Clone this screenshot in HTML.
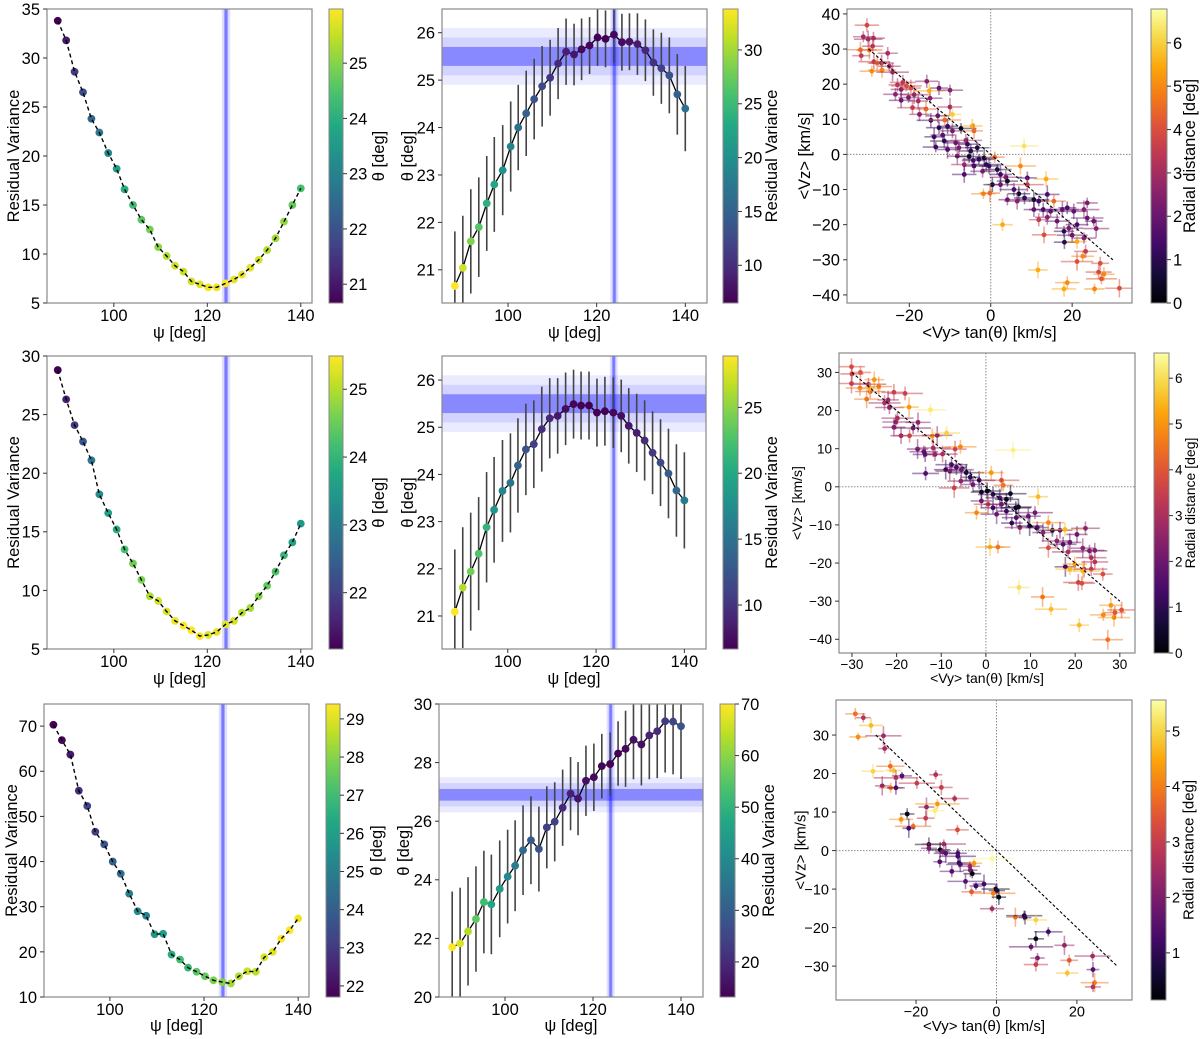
<!DOCTYPE html>
<html><head><meta charset="utf-8"><title>Residual variance fits</title>
<style>
html,body{margin:0;padding:0;background:#fff;}
svg{display:block;font-family:"Liberation Sans",sans-serif;}
</style></head>
<body>
<svg id="fig" width="1200" height="1039" viewBox="0 0 1200 1039" xmlns="http://www.w3.org/2000/svg"></svg>
<script>
// ---------- data ----------
const psi = [88.0,89.8,91.6,93.4,95.2,96.9,98.8,100.6,102.3,104.1,105.9,107.7,109.5,111.3,113.1,114.9,116.6,118.4,120.2,122.0,123.9,125.7,127.4,129.2,131.0,132.8,134.6,136.4,138.2,140.0];

const resVar1 = [33.8,31.8,28.6,26.5,23.8,22.4,20.3,18.7,16.6,15.0,13.5,12.5,10.7,9.8,8.8,8.2,7.2,6.9,6.6,6.6,7.0,7.4,7.9,8.6,9.4,10.4,11.6,13.3,15.0,16.7];
const theta1 = [20.66,21.04,21.6,21.9,22.4,22.8,23.1,23.6,24.0,24.3,24.6,24.87,25.05,25.35,25.6,25.54,25.65,25.73,25.9,25.87,25.96,25.8,25.81,25.76,25.63,25.37,25.25,25.1,24.7,24.4];
const thetaErr1 = [1.15,1.1,1.1,1.05,1.0,1.0,0.95,0.95,0.9,0.9,0.85,0.85,0.8,0.75,0.7,0.65,0.65,0.6,0.6,0.6,0.6,0.6,0.6,0.65,0.65,0.7,0.75,0.8,0.85,0.9];

const resVar2 = [28.8,26.3,24.1,22.7,21.1,18.2,16.6,15.2,13.5,12.3,10.9,9.5,9.1,8.2,7.4,7.0,6.6,6.1,6.2,6.45,7.1,7.4,8.1,8.5,9.5,10.4,11.6,13.0,14.1,15.7];
const theta2 = [21.09,21.6,21.94,22.32,22.88,23.25,23.65,23.82,24.19,24.53,24.64,24.96,25.19,25.24,25.39,25.49,25.46,25.46,25.31,25.34,25.31,25.24,25.03,24.88,24.72,24.46,24.25,24.02,23.66,23.45];
const thetaErr2 = [1.32,1.28,1.25,1.2,1.17,1.12,1.08,1.05,1.0,0.97,0.93,0.9,0.85,0.8,0.77,0.73,0.72,0.72,0.72,0.73,0.75,0.77,0.8,0.83,0.85,0.88,0.92,0.95,0.98,1.02];

const resVar3 = [70.3,66.9,63.7,55.7,52.3,46.6,43.8,40.0,37.3,32.9,29.0,28.0,23.9,24.0,19.4,18.3,16.5,15.6,14.6,13.7,13.3,13.0,14.6,15.7,15.6,18.8,20.0,22.9,24.8,27.4];
const theta3 = [21.7,21.83,22.24,22.66,23.24,23.16,23.69,24.11,24.48,25.01,25.35,25.05,25.79,25.98,26.46,26.94,26.77,27.38,27.5,27.88,27.95,28.31,28.47,28.78,28.62,28.93,29.07,29.41,29.4,29.24];
const thetaErr3 = [1.9,1.9,1.85,1.8,1.75,1.7,1.65,1.6,1.55,1.53,1.5,1.45,1.4,1.35,1.3,1.25,1.25,1.2,1.15,1.1,1.08,1.1,1.3,1.35,1.4,1.5,1.6,1.75,1.8,1.8];

// best-fit bands: [centre, 1-sigma, 2-sigma, 3-sigma]
const psiBest = [124.0, 0.45, 0.9, 1.4];
const thetaBest1 = [25.5, 0.2, 0.4, 0.6];
const thetaBest2 = [25.5, 0.2, 0.4, 0.6];
const thetaBest3 = [26.9, 0.2, 0.4, 0.6];

// scatter row 1
const sc1X = [-30.4,-31.3,-30.1,-28.8,-32,-31.8,-29.8,-29,-28.7,-27.9,-29.2,-26.8,-25.3,-26.7,-24.9,-24.1,-22.9,-21.6,-22,-20.7,-19.6,-23.4,-22,-20.2,-18.8,-15.7,-15.1,-12.7,-10,-15.9,-19.2,-17.8,-14.9,-10,-17.5,-14.7,-13,-11.3,-9.4,-12.7,-10.6,-7.3,-13.9,-11.8,-9.4,-4.5,-11.4,-8.6,-6.1,-4.1,-13.5,-10.6,-7.8,-5.7,-4.9,-3.3,-8.2,-5.3,-4.3,-2.9,-1.6,-6.5,-4.1,-1.1,1,-6.5,-2,-0.4,1.6,2.4,3.7,0.4,2.4,4.1,7.3,9,13.6,-1.8,-0.2,5.7,6.9,9,4.1,6.5,8.3,10.6,11.8,13.9,15.5,10.6,12.9,14.7,17.6,18.8,20.4,23.7,22.9,11.8,13.9,16.3,18,19.2,21.2,23.7,25.3,25.9,18.1,20,21.2,22.9,13.1,2.9,8.2,22.6,21.2,26.9,26.5,27.8,27.2,11.6,18.8,18,25.5,31.6,23.3];
const sc1Y = [36.8,33.5,32.8,33.1,29.8,28.1,29.7,30.8,26.4,26,23.7,26,28.8,24,25.1,23.4,19.8,20.5,18.5,19.5,18.9,17.1,15.4,16.2,17,20.8,18.1,18.9,18.3,12.9,13.3,15.2,16,13.5,11.4,9.7,11,9.8,11.4,7.6,8,7.4,5,5.5,6.7,8.1,3.8,3.3,4,6.7,2.1,1.4,1.9,2.9,1,1.9,-0.5,-0.6,-1.7,-1.4,-1,-2.9,-3.3,-2.9,-0.8,-5.7,-4.8,-3.3,-4.3,-5.7,-6.5,-8.6,-8.6,-7.6,-3.3,-6.7,-7,-11.2,-11,-10,-11.2,-8.6,-12.9,-13.3,-12.4,-12.9,-13.3,-11.4,-13.3,-15.7,-15.7,-16.2,-15.7,-15.2,-16.2,-13.8,-15.7,-18.6,-17.9,-19,-21.9,-21,-20,-18.1,-19,-21.1,-25,-23,-24.8,-23.8,-22.9,-20,2.4,-29,-30.5,-31,-33.5,-34.1,-35.4,-32.9,-36.5,-38.3,-38.3,-38.1,-27.6];
const sc1R = [3.8,3,3,3,4.5,3.5,4.5,3.3,3.5,4.5,5,3,3,5,3,2.8,3.2,3.5,2.5,4,4,2.5,2,2.3,2.8,2.5,5.5,2,2.5,4.5,3.5,3,2.5,3,2.5,1.3,2,4.5,6,1,1.3,0.3,1.2,1.8,2.3,5.5,1,2,3,4.5,1.3,1.5,2.3,1.2,1,0.8,2.5,0.5,1.5,1.2,0.5,3,1.5,1,4.5,1.5,2.3,1.2,0.8,1.3,2.5,0.5,2,0.6,5,1.5,5.5,5,4.5,1.5,0.5,3.5,2,2.5,1.2,0.5,1.3,1.5,4.5,2,1.5,1.8,2,1.5,1.8,2.3,2.5,3.5,2.5,2,1,2.3,1.5,2,2,2.5,1,2,5.5,2.5,4,5.5,6.3,5,4,4,3.8,5,4.2,5.5,5,5.5,5,4,3.5];
const sc1EX = [3.0,2.5,3.5,2.8,4.0,2.2,3.2,2.6,3.8,2.4,3.0];
const sc1EY = [2.0,1.6,2.4,1.8,2.2,1.5,2.6,1.9,2.1];

// scatter row 2
const sc2X = [-30.1,-30,-30.1,-28.1,-28.2,-26.7,-26.3,-25,-25.9,-24,-26,-22.7,-21.9,-21.6,-20.6,-18.1,-17.2,-12.4,-20.2,-20.6,-19.8,-19,-17.1,-15.2,-16.3,-12,-10.9,-8.8,-6.9,-5.7,-15.3,-13.9,-13.6,-11.8,-11.4,-9.7,-13.5,-9,-7.7,-6.6,-8.1,-5.5,-4.4,-3.5,-7.1,-5.6,-2.9,-1.5,-1,0.3,1.2,3.5,3.9,1.6,3.1,4.6,5.5,-1,0.5,1.6,3.5,4.6,6.7,7.3,-2.1,2.4,5.8,6.8,9.5,11,11.7,7.6,9.8,11.5,14,12.8,14.9,16.6,17.7,14,15.9,17.3,18.8,18.4,20.4,22.3,21.7,23.2,24.4,23.6,24.4,22,23.6,17.8,18.8,19.9,21.7,26.2,20.7,21.5,12.7,14.6,7.4,0.9,2.7,6.1,20.9,27.3,26.3,28,28.7,28.9,30.4];
const sc2Y = [31.5,29.6,27.1,30,25.9,23,26.9,28.1,25,26.3,25.7,22,22.8,20.8,24.8,24.5,20.9,20.2,17,15.6,18,13.4,13.4,16.9,15.4,13.3,13.5,14.1,9.9,10.5,9.9,9.2,8.5,10.2,8.5,8.6,3.5,4.5,5.8,5.1,4.1,4.5,3.7,2.5,-0.3,1.5,0.6,1.7,-1.4,-1.1,3.7,1.7,0.4,-2,-2.9,-3.3,-1.8,-3.7,-4.6,-5.5,-4.6,-6.4,-5.5,-5.3,-6.8,-7.2,-9.5,-8.1,-7.7,-6.8,-2.6,-10.7,-10.3,-10.7,-9.4,-12,-11.4,-11.4,-11.2,-16,-14.2,-15.1,-14.6,-17.1,-12.5,-10.9,-16.1,-16.8,-16.7,-18.6,-19.7,-21.6,-21.6,-21,-21.6,-20.3,-22.1,-22.9,-25.1,-25.3,-28.9,-32.1,-26.4,-15.8,-15.8,9.6,-36.3,-40.1,-33.6,-31.1,-34.3,-33,-32.3];
const sc2R = [3.8,3.5,3.5,4,4.5,4.5,3,5,4,4.5,5.5,3,2.8,2.5,3.5,3.5,5,6.2,2.5,2.3,3,2.5,3.5,2.5,2,5,2.5,5.8,3.5,4.8,2,1.8,1.5,3,2.5,3,1.5,1,1.3,1.5,2.5,2,0.8,1,3.5,2.5,2,1.3,0.4,0.3,5,3.8,4.5,1,1.5,0.3,0.5,2,3.5,1.2,2,1.2,0.3,0.5,4.8,2,1,1.5,2,2,5.5,2.5,0.5,1.5,4.8,2.5,0.8,2,5.5,3.8,2.5,1.5,2,3,2,2.5,2.5,2,2.3,3,3.2,3.5,3.3,1.3,5.5,5,5.5,3.8,3.5,3.8,4.5,5.5,6,5.5,4.5,6.3,5.5,4.5,4.8,5,5,4,4];
const sc2EX = [3.0,2.6,3.6,2.4,3.2,2.8,4.0,2.2,3.4];
const sc2EY = [2.2,1.8,2.6,1.6,2.0,2.4,1.7];

// scatter row 3
const sc3X = [-35.1,-33.1,-31.2,-34.4,-28.1,-27.8,-30.7,-26.4,-25.6,-25,-23.5,-28.4,-26.3,-25,-19.8,-15.1,-13.7,-10.4,-17.4,-14.7,-15.3,-22.2,-23.7,-17.6,-20.7,-21.8,-9.7,-16.8,-16.8,-13.1,-14,-13.4,-12.6,-9.6,-9.6,-14.1,-9.3,-9,-5.6,-1.1,-6.6,-6.5,-11.1,-6,-7.7,-5.1,-3.1,-0.2,0.1,-0.8,-6.2,0.6,-1.1,4.7,6.9,7.1,9.8,12.9,9.8,8.6,16.9,10.2,9.8,18.1,23.9,24,17.6,24.4,24];
const sc3Y = [35.5,34.5,32.5,29.5,29.8,26.5,20.6,21.9,20.8,18.9,19.4,16.8,16.3,16.3,17.5,19.7,16.4,13.5,11.3,12.1,10.4,9.5,8.1,8.4,6.3,5.8,5.4,1.6,0.6,1.7,0.2,-0.3,-0.7,-0.7,-1.5,-2.9,-3.2,-3.6,-3.3,-2.1,-4.1,-5.1,-5.4,-6,-8,-9.2,-8.7,-10,-10.4,-11.1,-10.7,-12.1,-15.1,-17.3,-16.9,-17.4,-18,-21.1,-22.9,-25,-24.6,-27.9,-29.6,-28.5,-27.4,-30.9,-31.8,-34.3,-35.4];
const sc3R = [3.8,2.8,4.7,4.2,2.5,2.5,5,3.8,4.8,2.8,1.5,2.3,4,1.3,3,2.7,3,2.7,2.3,4.3,5.3,0.4,4.3,3,3.8,1.2,3.3,0.5,2,2.5,0.3,2,1.5,1.3,1.3,1.5,1,1.3,4.3,5.5,2.5,2,1.5,0.3,1.5,1.2,1.2,0.4,0.8,4,3.5,0.3,2.5,3.8,0.7,1,5,1.2,0.4,1.7,2.3,2,3,3.5,2.5,1.5,4.8,4,2.8];
const sc3EX = [2.5,1.8,3.0,2.2,4.5,1.6,2.8,3.5,2.0,5.5];
const sc3EY = [1.5,1.2,2.0,1.0,2.5,1.3,1.8];

// fit line endpoints
const fitLineX = [-30, 30];
const fitLineY = [30, -30];

// ticks
const psiTicks = [100, 120, 140];
const r1LYTicks = [5,10,15,20,25,30,35];
const r2LYTicks = [5,10,15,20,25,30];
const r3LYTicks = [10,20,30,40,50,60,70];
const r1MYTicks = [21,22,23,24,25,26];
const r2MYTicks = [21,22,23,24,25,26];
const r3MYTicks = [20,22,24,26,28,30];
const r1RXTicks = [-20,0,20];
const r1RYTicks = [-40,-30,-20,-10,0,10,20,30,40];
const r2RXTicks = [-30,-20,-10,0,10,20,30];
const r2RYTicks = [-40,-30,-20,-10,0,10,20,30];
const r3RXTicks = [-20,0,20];
const r3RYTicks = [-30,-20,-10,0,10,20,30];
const cb1LTicks = [21,22,23,24,25];
const cb2LTicks = [22,23,24,25];
const cb3LTicks = [22,23,24,25,26,27,28,29];
const cb1MTicks = [10,15,20,25,30];
const cb2MTicks = [10,15,20,25];
const cb3MTicks = [20,30,40,50,60,70];
const cb1RTicks = [0,1,2,3,4,5,6];
const cb2RTicks = [0,1,2,3,4,5,6];
const cb3RTicks = [1,2,3,4,5];

// ---------- rendering ----------
const NS = "http://www.w3.org/2000/svg";
const svg = document.getElementById('fig');
function mk(tag, attrs, parent) {
  const e = document.createElementNS(NS, tag);
  for (const k in attrs) e.setAttribute(k, attrs[k]);
  (parent || svg).appendChild(e);
  return e;
}
const VIR = ['#440154','#482475','#414487','#355f8d','#2a788e','#21918c','#22a884','#44bf70','#7ad151','#bddf26','#fde725'];
const INF = ['#000004','#160b39','#420a68','#6a176e','#932667','#bc3754','#dd513a','#f37819','#fca50a','#f6d746','#fcffa4'];
function hex(h){return [parseInt(h.substr(1,2),16),parseInt(h.substr(3,2),16),parseInt(h.substr(5,2),16)];}
function cmap(stops, t) {
  t = Math.max(0, Math.min(1, t));
  const p = t * (stops.length - 1), i = Math.min(Math.floor(p), stops.length - 2), f = p - i;
  const a = hex(stops[i]), b = hex(stops[i+1]);
  return 'rgb(' + a.map((v,k)=>Math.round(v + (b[k]-v)*f)).join(',') + ')';
}
let gid = 0;
function scale(d0, d1, r0, r1) { return v => r0 + (v - d0) / (d1 - d0) * (r1 - r0); }

function vtext(parent, cx, cy, fs, str) {
  const bx = cx + fs * 0.35;
  return mk('text', {x: bx, y: cy, 'text-anchor': 'middle', 'font-size': fs, transform: 'rotate(-90 ' + bx + ' ' + cy + ')'}, parent);
}

function axes(p) {
  const g = mk('g', {});
  
  
  p.sx = scale(p.xd[0], p.xd[1], p.x0, p.x1);
  p.sy = scale(p.yd[0], p.yd[1], p.y1, p.y0);
  const id = 'clip' + (gid++);
  const cp = mk('clipPath', {id: id}, g);
  mk('rect', {x: p.x0, y: p.y0, width: p.x1 - p.x0, height: p.y1 - p.y0}, cp);
  p.g = g;
  p.plot = mk('g', {'clip-path': 'url(#' + id + ')'}, g);
  
  
  return p;
}
function frame(p) {
  const g = p.g, fs = p.fs || 16.5;
  const fr = mk('rect', {x: p.x0, y: p.y0, width: p.x1 - p.x0, height: p.y1 - p.y0, fill: 'none', stroke: '#888', 'stroke-width': 1.2}, g);
  
  
  p.xt.forEach(v => {
    const x = p.sx(v);
    mk('line', {x1: x, x2: x, y1: p.y1, y2: p.y1 + 4, stroke: '#333'}, g);
    const t = mk('text', {x: x, y: p.y1 + 5 + fs * 0.8, 'text-anchor': 'middle', 'font-size': fs, fill: '#000'}, g);
    t.textContent = v < 0 ? '\u2212' + Math.abs(v) : v;
    
    
  });
  p.yt.forEach(v => {
    const y = p.sy(v);
    mk('line', {x1: p.x0 - 4, x2: p.x0, y1: y, y2: y, stroke: '#333'}, g);
    const t = mk('text', {x: p.x0 - 7, y: y + fs * 0.36, 'text-anchor': 'end', 'font-size': fs, fill: '#000'}, g);
    t.textContent = v < 0 ? '\u2212' + Math.abs(v) : v;
    
    
  });
  const xl = mk('text', {x: (p.x0 + p.x1) / 2, y: p.xly, 'text-anchor': 'middle', 'font-size': p.lfs || 16.5}, g);
  xl.textContent = p.xl;
  
  
  const yl = vtext(g, p.ylx, (p.y0 + p.y1) / 2, p.lfs || 16.5);
  yl.textContent = p.yl;
  
  
}
function colorbar(c) {
  const g = mk('g', {});
  
  
  const id = 'grad' + (gid++);
  const lg = mk('linearGradient', {id: id, x1: 0, y1: 1, x2: 0, y2: 0}, g);
  c.stops.forEach((s, i) => mk('stop', {offset: i / (c.stops.length - 1), 'stop-color': s}, lg));
  mk('rect', {x: c.x, y: c.y0, width: c.w, height: c.y1 - c.y0, fill: 'url(#' + id + ')', stroke: '#888', 'stroke-width': 1}, g);
  const s = scale(c.range[0], c.range[1], c.y1, c.y0);
  const fs = c.fs || 16.5;
  c.ticks.forEach(v => {
    const y = s(v);
    mk('line', {x1: c.x + c.w, x2: c.x + c.w + 4, y1: y, y2: y, stroke: '#333'}, g);
    const t = mk('text', {x: c.x + c.w + 6, y: y + fs * 0.36, 'font-size': fs}, g);
    t.textContent = v;
    
    
  });
  const l = vtext(g, c.lx, (c.y0 + c.y1) / 2, c.lfs || 16.5);
  l.textContent = c.label;
  
  
}
function vband(p, b) {
  [[b[2], 0.12], [b[1] , 0.22], [b[1] * 0.6, 0.3]].forEach(w => {
    const x0 = p.sx(b[0] - w[0]), x1 = p.sx(b[0] + w[0]);
    const r = mk('rect', {x: x0, y: p.y0, width: x1 - x0, height: p.y1 - p.y0, fill: 'rgb(0,0,255)', 'fill-opacity': w[1]}, p.plot);
    
    
  });
}
function hband(p, b) {
  [[b[3], 0.08], [b[2], 0.1], [b[1], 0.35]].forEach(w => {
    const y0 = p.sy(b[0] + w[0]), y1 = p.sy(b[0] - w[0]);
    const r = mk('rect', {x: p.x0, y: y0, width: p.x1 - p.x0, height: y1 - y0, fill: 'rgb(0,0,255)', 'fill-opacity': w[1]}, p.plot);
    
    
  });
}
function leftPanel(p, vals, cvals, crange) {
  axes(p);
  vband(p, psiBest);
  psi.forEach((x, i) => {
    const c = mk('circle', {cx: p.sx(x), cy: p.sy(vals[i]), r: 3.9, fill: cmap(VIR, (cvals[i] - crange[0]) / (crange[1] - crange[0]))}, p.plot);
    
    
  });
  const d = psi.map((x, i) => (i ? 'L' : 'M') + p.sx(x).toFixed(1) + ' ' + p.sy(vals[i]).toFixed(1)).join(' ');
  const l = mk('path', {d: d, fill: 'none', stroke: '#000', 'stroke-width': 1.4, 'stroke-dasharray': '4,3'}, p.plot);
  
  
  frame(p);
}
function midPanel(p, vals, errs, cvals, crange, tb) {
  axes(p);
  hband(p, tb);
  vband(p, psiBest);
  psi.forEach((x, i) => {
    const e = mk('line', {x1: p.sx(x), x2: p.sx(x), y1: p.sy(vals[i] - errs[i]), y2: p.sy(vals[i] + errs[i]), stroke: '#444', 'stroke-width': 1.6}, p.plot);
    
    
  });
  const d = psi.map((x, i) => (i ? 'L' : 'M') + p.sx(x).toFixed(1) + ' ' + p.sy(vals[i]).toFixed(1)).join(' ');
  const l = mk('path', {d: d, fill: 'none', stroke: '#000', 'stroke-width': 1.3}, p.plot);
  
  
  psi.forEach((x, i) => {
    const c = mk('circle', {cx: p.sx(x), cy: p.sy(vals[i]), r: 3.9, fill: cmap(VIR, (cvals[i] - crange[0]) / (crange[1] - crange[0]))}, p.plot);
    
    
  });
  frame(p);
}
function scatterPanel(p, xs, ys, rs, exs, eys, crange) {
  axes(p);
  const dl = {stroke: '#888', 'stroke-width': 1, 'stroke-dasharray': '1.5,1.5'};
  const vx = mk('line', Object.assign({x1: p.sx(0), x2: p.sx(0), y1: p.y0, y2: p.y1}, dl), p.plot);
  
  
  const hy = mk('line', Object.assign({x1: p.x0, x2: p.x1, y1: p.sy(0), y2: p.sy(0)}, dl), p.plot);
  
  
  xs.forEach((x, i) => {
    const col = cmap(INF, (rs[i] - crange[0]) / (crange[1] - crange[0]));
    const ex = exs[i % exs.length], ey = eys[i % eys.length];
    const g = mk('g', {}, p.plot);
    
    
    mk('line', {x1: p.sx(x - ex), x2: p.sx(x + ex), y1: p.sy(ys[i]), y2: p.sy(ys[i]), stroke: col, 'stroke-opacity': 0.5, 'stroke-width': 1.6}, g);
    mk('line', {x1: p.sx(x), x2: p.sx(x), y1: p.sy(ys[i] - ey), y2: p.sy(ys[i] + ey), stroke: col, 'stroke-opacity': 0.5, 'stroke-width': 1.6}, g);
    mk('circle', {cx: p.sx(x), cy: p.sy(ys[i]), r: 2.4, fill: col}, g);
  });
  const fl = mk('line', {x1: p.sx(fitLineX[0]), y1: p.sy(fitLineY[0]), x2: p.sx(fitLineX[1]), y2: p.sy(fitLineY[1]), stroke: '#000', 'stroke-width': 1.1, 'stroke-dasharray': '3,2'}, p.plot);
  
  
  frame(p);
}

const PSI = '\u03c8 [deg]', TH = '\u03b8 [deg]', VYT = '<Vy> tan(\u03b8) [km/s]', VZ = '<Vz> [km/s]';

// Row 1
leftPanel({name:'r1-variance-panel', x0:47,x1:312,y0:9,y1:303, xd:[85.7,142.4], yd:[5,35], xt:psiTicks, yt:r1LYTicks, xl:PSI, xly:338, yl:'Residual Variance', ylx:13}, resVar1, theta1, [20.66,25.98]);
colorbar({name:'r1-theta-colorbar', x:329,w:14,y0:9,y1:303, range:[20.66,25.98], stops:VIR, ticks:cb1LTicks, label:TH, lx:378});
midPanel({name:'r1-theta-panel', x0:442,x1:707,y0:9,y1:303, xd:[85.1,144.9], yd:[20.3,26.5], xt:psiTicks, yt:r1MYTicks, xl:PSI, xly:338, yl:TH, ylx:407}, theta1, thetaErr1, resVar1, [6.5,33.8], thetaBest1);
colorbar({name:'r1-variance-colorbar', x:723,w:15,y0:9,y1:303, range:[6.5,33.8], stops:VIR, ticks:cb1MTicks, label:'Residual Variance', lx:771});
scatterPanel({name:'r1-velocity-panel', x0:847,x1:1132,y0:9,y1:303, xd:[-35.3,34.7], yd:[-42.3,41.4], xt:r1RXTicks, yt:r1RYTicks, xl:VYT, xly:338, yl:VZ, ylx:804}, sc1X, sc1Y, sc1R, sc1EX, sc1EY, [0,6.78]);
colorbar({name:'r1-radial-colorbar', x:1151,w:16,y0:9,y1:303, range:[0,6.78], stops:INF, ticks:cb1RTicks, label:'Radial distance [deg]', lx:1189});

// Row 2
leftPanel({name:'r2-variance-panel', x0:47,x1:312,y0:356,y1:649, xd:[85.7,142.4], yd:[5,30], xt:psiTicks, yt:r2LYTicks, xl:PSI, xly:684, yl:'Residual Variance', ylx:13}, resVar2, theta2, [21.17,25.49]);
colorbar({name:'r2-theta-colorbar', x:329,w:14,y0:356,y1:649, range:[21.17,25.49], stops:VIR, ticks:cb2LTicks, label:TH, lx:378});
midPanel({name:'r2-theta-panel', x0:442,x1:706,y0:356,y1:649, xd:[85.1,144.9], yd:[20.3,26.51], xt:psiTicks, yt:r2MYTicks, xl:PSI, xly:684, yl:TH, ylx:407}, theta2, thetaErr2, resVar2, [6.66,28.9], thetaBest2);
colorbar({name:'r2-variance-colorbar', x:723,w:15,y0:356,y1:649, range:[6.66,28.9], stops:VIR, ticks:cb2MTicks, label:'Residual Variance', lx:771});
scatterPanel({name:'r2-velocity-panel', x0:839,x1:1135,y0:353,y1:653, xd:[-32.9,33.4], yd:[-43.6,35.1], xt:r2RXTicks, yt:r2RYTicks, xl:VYT, xly:683, yl:VZ, ylx:797, fs:13.5, lfs:14}, sc2X, sc2Y, sc2R, sc2EX, sc2EY, [0,6.55]);
colorbar({name:'r2-radial-colorbar', x:1154,w:15,y0:353,y1:653, range:[0,6.55], stops:INF, ticks:cb2RTicks, label:'Radial distance [deg]', lx:1190, fs:13.5, lfs:14});

// Row 3
leftPanel({name:'r3-variance-panel', x0:44,x1:309,y0:704,y1:997, xd:[86,142.3], yd:[10,74.9], xt:psiTicks, yt:r3LYTicks, xl:PSI, xly:1031, yl:'Residual Variance', ylx:11}, resVar3, theta3, [21.71,29.39]);
colorbar({name:'r3-theta-colorbar', x:326,w:14,y0:704,y1:997, range:[21.71,29.39], stops:VIR, ticks:cb3LTicks, label:TH, lx:376});
midPanel({name:'r3-theta-panel', x0:439,x1:703,y0:704,y1:997, xd:[85,145], yd:[20,30], xt:psiTicks, yt:r3MYTicks, xl:PSI, xly:1031, yl:TH, ylx:403}, theta3, thetaErr3, resVar3, [13.2,70], thetaBest3);
colorbar({name:'r3-variance-colorbar', x:720,w:15,y0:704,y1:997, range:[13.2,70], stops:VIR, ticks:cb3MTicks, label:'Residual Variance', lx:768});
scatterPanel({name:'r3-velocity-panel', x0:836,x1:1132,y0:700,y1:1000, xd:[-39.9,33.7], yd:[-38.8,39.1], xt:r3RXTicks, yt:r3RYTicks, xl:VYT, xly:1031, yl:VZ, ylx:800, fs:14.5, lfs:15}, sc3X, sc3Y, sc3R, sc3EX, sc3EY, [0.15,5.56]);
colorbar({name:'r3-radial-colorbar', x:1151,w:15,y0:700,y1:1000, range:[0.15,5.56], stops:INF, ticks:cb3RTicks, label:'Radial distance [deg]', lx:1188, fs:14.5, lfs:15});
</script>
</body></html>
